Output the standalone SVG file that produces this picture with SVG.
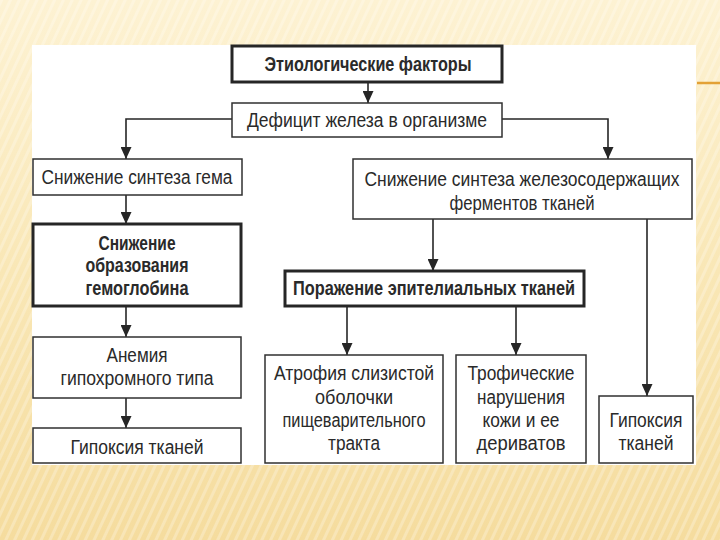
<svg xmlns="http://www.w3.org/2000/svg" width="720" height="540" viewBox="0 0 720 540">
  <defs>
    <linearGradient id="bg" x1="0" y1="0" x2="0" y2="1">
      <stop offset="0" stop-color="#FDF2D3"/>
      <stop offset="0.5" stop-color="#F9E7B6"/>
      <stop offset="1" stop-color="#F5DC9E"/>
    </linearGradient>
    <pattern id="stripes" width="8" height="8" patternUnits="userSpaceOnUse" patternTransform="rotate(25)">
      <rect x="0" y="0" width="3" height="8" fill="#ffffff" opacity="0.25"/>
    </pattern>
    <marker id="arr" viewBox="0 0 12 11" refX="12" refY="5.5" markerWidth="12" markerHeight="11" markerUnits="userSpaceOnUse" orient="auto">
      <path d="M0,0 L12,5.5 L0,11 z" fill="#262626"/>
    </marker>
    <style>
      .box { fill: #ffffff; stroke: #303030; stroke-width: 1.5; }
      .thick { fill: #ffffff; stroke: #262626; stroke-width: 3; }
      .t { font-family: "Liberation Sans", Arial, sans-serif; font-size: 19.5px; fill: #2a2a2a; text-anchor: middle; }
      .b { font-weight: bold; }
      .c { fill: none; stroke: #262626; stroke-width: 1.6; marker-end: url(#arr); }
    </style>
  </defs>

  <rect x="0" y="0" width="720" height="540" fill="url(#bg)"/>
  <rect x="0" y="0" width="720" height="540" fill="url(#stripes)"/>
  <rect x="32" y="45" width="664" height="420" fill="#ffffff"/>
  <line x1="697" y1="83" x2="720" y2="83" stroke="#E3A136" stroke-width="2.5"/>

  <g id="connectors">
    <path class="c" d="M368,82 L368,103"/>
    <path class="c" d="M232,119 L126,119 L126,159"/>
    <path class="c" d="M502,119 L608,119 L608,159"/>
    <path class="c" d="M126,195 L126,224"/>
    <path class="c" d="M126,306 L126,337"/>
    <path class="c" d="M126,398 L126,428"/>
    <path class="c" d="M433,219 L433,271"/>
    <path class="c" d="M347,306 L347,355"/>
    <path class="c" d="M516,306 L516,355"/>
    <path class="c" d="M647,219 L647,396"/>
  </g>

  <g id="n1">
    <rect class="thick" x="232" y="46" width="270" height="36"/>
    <text class="t b" x="368" y="71" textLength="207" lengthAdjust="spacingAndGlyphs">Этиологические факторы</text>
  </g>
  <g id="n2">
    <rect class="box" x="232" y="103" width="270" height="34"/>
    <text class="t" x="367" y="127" textLength="240" lengthAdjust="spacingAndGlyphs">Дефицит железа в организме</text>
  </g>
  <g id="n3">
    <rect class="box" x="33" y="159" width="209" height="36"/>
    <text class="t" x="137" y="184" textLength="191" lengthAdjust="spacingAndGlyphs">Снижение синтеза гема</text>
  </g>
  <g id="n4">
    <rect class="box" x="353" y="159" width="339" height="60"/>
    <text class="t" x="522" y="186" textLength="315" lengthAdjust="spacingAndGlyphs">Снижение синтеза железосодержащих</text>
    <text class="t" x="522" y="210" textLength="145" lengthAdjust="spacingAndGlyphs">ферментов тканей</text>
  </g>
  <g id="n5">
    <rect class="thick" x="33" y="224" width="208" height="82"/>
    <text class="t b" x="137" y="250" textLength="77" lengthAdjust="spacingAndGlyphs">Снижение</text>
    <text class="t b" x="137" y="272" textLength="103" lengthAdjust="spacingAndGlyphs">образования</text>
    <text class="t b" x="137" y="295" textLength="103" lengthAdjust="spacingAndGlyphs">гемоглобина</text>
  </g>
  <g id="n6">
    <rect class="box" x="33" y="337" width="208" height="61"/>
    <text class="t" x="137" y="362" textLength="61" lengthAdjust="spacingAndGlyphs">Анемия</text>
    <text class="t" x="137" y="385" textLength="153" lengthAdjust="spacingAndGlyphs">гипохромного типа</text>
  </g>
  <g id="n7">
    <rect class="box" x="33" y="428" width="208" height="35"/>
    <text class="t" x="137" y="454" textLength="133" lengthAdjust="spacingAndGlyphs">Гипоксия тканей</text>
  </g>
  <g id="n8">
    <rect class="thick" x="285" y="271" width="299" height="35"/>
    <text class="t b" x="434" y="295" textLength="282" lengthAdjust="spacingAndGlyphs">Поражение эпителиальных тканей</text>
  </g>
  <g id="n9">
    <rect class="box" x="265" y="355" width="178" height="108"/>
    <text class="t" x="354" y="380" textLength="160" lengthAdjust="spacingAndGlyphs">Атрофия слизистой</text>
    <text class="t" x="354" y="404" textLength="78" lengthAdjust="spacingAndGlyphs">оболочки</text>
    <text class="t" x="354" y="427" textLength="143" lengthAdjust="spacingAndGlyphs">пищеварительного</text>
    <text class="t" x="354" y="450" textLength="52" lengthAdjust="spacingAndGlyphs">тракта</text>
  </g>
  <g id="n10">
    <rect class="box" x="456" y="355" width="130" height="108"/>
    <text class="t" x="521" y="380" textLength="107" lengthAdjust="spacingAndGlyphs">Трофические</text>
    <text class="t" x="521" y="404" textLength="88" lengthAdjust="spacingAndGlyphs">нарушения</text>
    <text class="t" x="521" y="427" textLength="77" lengthAdjust="spacingAndGlyphs">кожи и ее</text>
    <text class="t" x="521" y="450" textLength="89" lengthAdjust="spacingAndGlyphs">дериватов</text>
  </g>
  <g id="n11">
    <rect class="box" x="599" y="396" width="94" height="67"/>
    <text class="t" x="646" y="427" textLength="73" lengthAdjust="spacingAndGlyphs">Гипоксия</text>
    <text class="t" x="646" y="450" textLength="55" lengthAdjust="spacingAndGlyphs">тканей</text>
  </g>
</svg>
